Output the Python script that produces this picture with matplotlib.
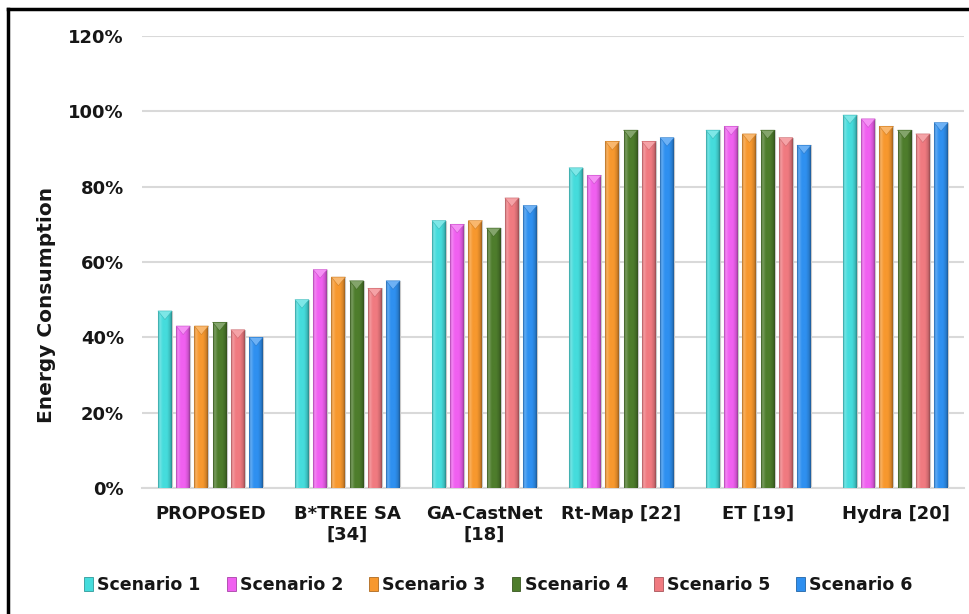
import numpy as np
import matplotlib
matplotlib.use("Agg")
import matplotlib.pyplot as plt
from matplotlib.patches import Polygon, Patch
from matplotlib.lines import Line2D
from matplotlib.colors import to_rgb

# ---- data -------------------------------------------------------------
methods = ["PROPOSED", "B*TREE SA\n[34]", "GA-CastNet\n[18]",
           "Rt-Map [22]", "ET [19]", "Hydra [20]"]
scenario_1 = [47, 50, 71, 85, 95, 99]
scenario_2 = [43, 58, 70, 83, 96, 98]
scenario_3 = [43, 56, 71, 92, 94, 96]
scenario_4 = [44, 55, 69, 95, 95, 95]
scenario_5 = [42, 53, 77, 92, 93, 94]
scenario_6 = [40, 55, 75, 93, 91, 97]
series_names = ["Scenario 1", "Scenario 2", "Scenario 3",
                "Scenario 4", "Scenario 5", "Scenario 6"]
y_ticks = [0, 20, 40, 60, 80, 100, 120]
y_label = "Energy Consumption"

series = [scenario_1, scenario_2, scenario_3, scenario_4, scenario_5, scenario_6]
colors = ["#45DCDC", "#F060F0", "#F7982E", "#4E7D2C", "#F07A80", "#2F90F0"]

TEXT = "#161616"
FONT = "DejaVu Sans"


def lighten(c, t):
    c = np.array(to_rgb(c))
    return tuple(c + (1 - c) * t)


def darken(c, f):
    c = np.array(to_rgb(c))
    return tuple(c * f)


def column_gradient(c, n=64):
    """Horizontal shading across a bar so it reads as a rounded column."""
    stops = np.array([0.0, 0.12, 0.35, 0.65, 0.88, 1.0])
    base = np.array(to_rgb(c))
    cols = np.array([
        darken(c, 0.72),
        lighten(c, 0.25),
        base,
        base,
        darken(c, 0.85),
        darken(c, 0.62),
    ])
    xs = np.linspace(0, 1, n)
    img = np.stack([np.interp(xs, stops, cols[:, k]) for k in range(3)], axis=-1)
    return img[np.newaxis, :, :]


fig = plt.figure(figsize=(9.7, 6.14), dpi=100)
ax = fig.add_axes([142 / 970, 1 - 488 / 614, (964 - 142) / 970, (488 - 36) / 614])

x = np.arange(len(methods))
n = len(series)
stride = 0.133
width = 0.102
cap_h = 2.3

for j, (vals, c) in enumerate(zip(series, colors)):
    offs = (j - (n - 1) / 2) * stride
    bars = ax.bar(x + offs, vals, width, color=c, edgecolor="#c8c8c8",
                  linewidth=0.8, zorder=2, label=series_names[j])
    grad = column_gradient(c)
    for rect in bars:
        x0, w, h = rect.get_x(), rect.get_width(), rect.get_height()
        im = ax.imshow(grad, extent=(x0, x0 + w, 0, h), aspect="auto",
                       interpolation="bilinear", zorder=3)
        im.set_clip_path(rect)
        # bevelled top of the column
        cap = Polygon([(x0, h), (x0 + w, h), (x0 + w / 2, h - cap_h)],
                      closed=True, facecolor=lighten(c, 0.3),
                      edgecolor=darken(c, 0.85), linewidth=0.4, zorder=4)
        ax.add_patch(cap)

ax.set_xlim(-0.5, len(methods) - 0.5)
ax.set_ylim(0, 120)
ax.set_aspect("auto")

ax.set_yticks(y_ticks)
ax.set_yticklabels([f"{v}%" for v in y_ticks])
ax.set_xticks(x)
ax.set_xticklabels(methods, linespacing=1.25)
ax.tick_params(axis="both", length=0, labelcolor=TEXT)
ax.tick_params(axis="y", pad=13)
ax.tick_params(axis="x", pad=12)
for lab in ax.get_yticklabels() + ax.get_xticklabels():
    lab.set_fontfamily(FONT)
    lab.set_fontweight("bold")
    lab.set_fontsize(13)

ax.yaxis.grid(True, color="#d9d9d9", linewidth=1.5, zorder=0)
ax.set_axisbelow(True)
for s in ("top", "right", "left"):
    ax.spines[s].set_visible(False)
ax.spines["bottom"].set_color("#d9d9d9")
ax.spines["bottom"].set_linewidth(1.5)

fig.text(47 / 970, 1 - 305 / 614, y_label, rotation=90, ha="center",
         va="center", fontsize=14.5, fontweight="bold", family=FONT, color=TEXT)

handles = [Patch(facecolor=c, edgecolor=darken(c, 0.7), linewidth=0.6)
           for c in colors]
fig.legend(handles, series_names, loc="center", bbox_to_anchor=(0.514, 0.047),
           ncol=6, frameon=False, handlelength=0.5, handleheight=0.8,
           handletextpad=0.25, columnspacing=1.5,
           prop=dict(family=FONT, weight="bold", size=12.5),
           labelcolor=TEXT)

# frame lines around the figure
fig.add_artist(Line2D([8 / 970, 8 / 970], [0, 1 - 9 / 614],
                      transform=fig.transFigure, color="black", linewidth=2.5))
fig.add_artist(Line2D([8 / 970, 1], [1 - 9 / 614, 1 - 9 / 614],
                      transform=fig.transFigure, color="black", linewidth=2.5))

fig.savefig("out.png", dpi=100)
